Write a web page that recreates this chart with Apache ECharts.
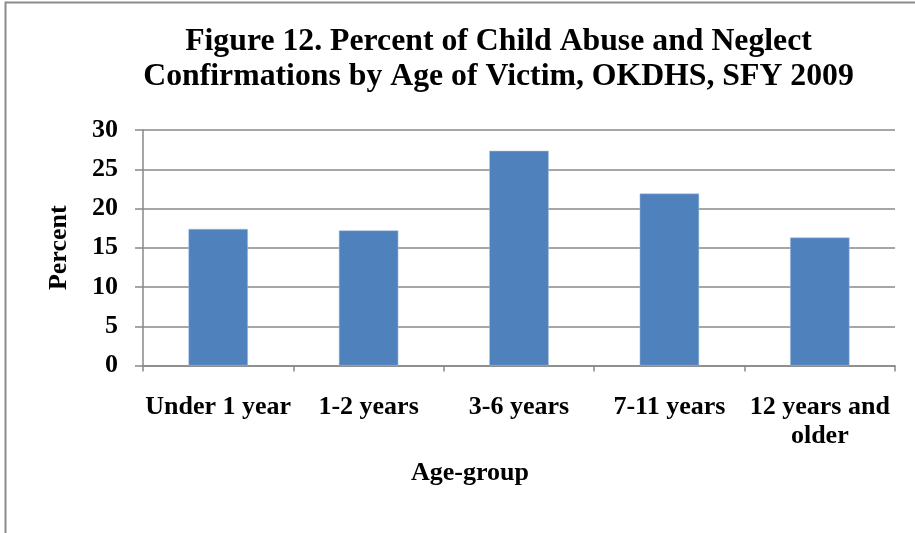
<!DOCTYPE html>
<html>
<head>
<meta charset="utf-8">
<script src="https://cdn.jsdelivr.net/npm/echarts@6/dist/echarts.min.js"></script>
<style>
  html, body { margin: 0; padding: 0; background: #fff; }
  #chart { width: 915px; height: 533px; }
</style>
</head>
<body>
<div id="chart"></div>
<script>
// Age groups of confirmed victims and their share of all confirmations (%)
const categories = ['Under 1 year', '1-2 years', '3-6 years', '7-11 years', '12 years and\nolder'];
const percentValues = [17.4, 17.2, 27.35, 21.9, 16.3];
const yTicks = { min: 0, max: 30, interval: 5 };

const FONT = '"Liberation Serif", "Times New Roman", serif';

const chart = echarts.init(document.getElementById('chart'));
chart.setOption({
  animation: false,
  backgroundColor: '#fff',
  title: {
    text: 'Figure 12. Percent of Child Abuse and Neglect\nConfirmations by Age of Victim, OKDHS, SFY 2009',
    left: 493.5,
    top: 19,
    textAlign: 'center',
    textStyle: {
      fontFamily: FONT,
      fontWeight: 'bold',
      fontSize: 31.75,
      lineHeight: 35,
      color: '#000'
    }
  },
  graphic: [{
    type: 'rect',
    shape: { x: 5.5, y: 2.5, width: 1000, height: 1000 },
    style: { fill: 'none', stroke: '#8c8c8c', lineWidth: 2 },
    silent: true
  }],
  grid: { left: 143, right: 20, top: 130, bottom: 167.5 },
  xAxis: {
    type: 'category',
    data: categories,
    name: 'Age-group',
    nameLocation: 'middle',
    nameGap: 95,
    nameTextStyle: {
      fontFamily: FONT, fontWeight: 'bold', fontSize: 26, color: '#000',
      padding: [0, 98, 0, 0]
    },
    axisLine: { lineStyle: { color: '#888', width: 1.5 } },
    axisTick: { show: true, length: 6, lineStyle: { color: '#888', width: 1.5 } },
    axisLabel: {
      fontFamily: FONT, fontWeight: 'bold', fontSize: 26, color: '#000',
      margin: 27, lineHeight: 29, interval: 0
    }
  },
  yAxis: {
    type: 'value',
    min: yTicks.min,
    max: yTicks.max,
    interval: yTicks.interval,
    name: 'Percent',
    nameLocation: 'middle',
    nameGap: 71,
    nameTextStyle: { fontFamily: FONT, fontWeight: 'bold', fontSize: 26, color: '#000' },
    axisLine: { show: true, lineStyle: { color: '#888', width: 1.5 } },
    axisTick: { show: true, length: 8, lineStyle: { color: '#888', width: 1.5 } },
    splitLine: { show: true, lineStyle: { color: '#888', width: 1.5 } },
    axisLabel: {
      fontFamily: FONT, fontWeight: 'bold', fontSize: 26, color: '#000', margin: 25
    }
  },
  series: [{
    type: 'bar',
    data: percentValues,
    barWidth: '39.5%',
    itemStyle: { color: '#4F81BD', borderColor: '#a9c0e0', borderWidth: 0.5 }
  }]
});
</script>
</body>
</html>
